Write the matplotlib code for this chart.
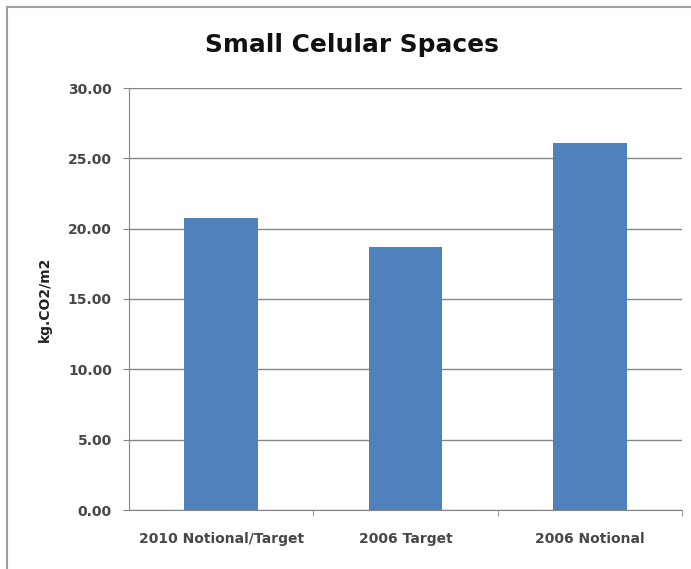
import matplotlib.pyplot as plt
from matplotlib.patches import Rectangle

# данные графика
categories = ['2010 Notional/Target', '2006 Target', '2006 Notional']
values = [20.75, 18.70, 26.07]
y_ticks = [0, 5, 10, 15, 20, 25, 30]

plt.rcParams['font.family'] = ['DejaVu Sans']

fig = plt.figure(figsize=(6.91, 5.69), dpi=100)
ax = fig.add_axes([129 / 691, 1 - 510 / 569, 553 / 691, 422 / 569])

x = list(range(len(categories)))
ax.bar(x, values, width=0.4, color='#4f81bd', zorder=3)

ax.set_xlim(-0.5, len(categories) - 0.5)
ax.set_ylim(0, 30)
ax.set_yticks(y_ticks)
ax.set_yticklabels([f'{v:.2f}' for v in y_ticks], fontsize=10,
                   fontweight='bold', color='#484848')
ax.set_xticks(x)
ax.set_xticklabels(categories, fontsize=10, fontweight='bold', color='#484848')
ax.tick_params(axis='x', length=0, pad=16)
ax.tick_params(axis='y', length=4.3, color='#868686', pad=8)

# засечки между категориями
ax.set_xticks([i + 0.5 for i in x], minor=True)
ax.tick_params(axis='x', which='minor', length=4.3, color='#868686')

ax.grid(axis='y', color='#868686', linewidth=1, zorder=0)
for s in ['top', 'right']:
    ax.spines[s].set_visible(False)
ax.spines['left'].set_color('#868686')
ax.spines['bottom'].set_color('#868686')

ax.set_ylabel('kg.CO2/m2', fontsize=10, fontweight='bold', color='#222222', labelpad=11.5)
fig.text(352 / 691, 1 - 45 / 569, 'Small Celular Spaces', fontsize=17.9,
         fontweight='bold', ha='center', va='center', color='#111111')

# рамка вокруг диаграммы
fig.patches.append(Rectangle((7 / 691, -0.1), 1.2, 1.1 - 7 / 569,
                             transform=fig.transFigure, fill=False,
                             edgecolor='#a0a0a0', linewidth=1.5))

fig.savefig('out.png', dpi=100)
